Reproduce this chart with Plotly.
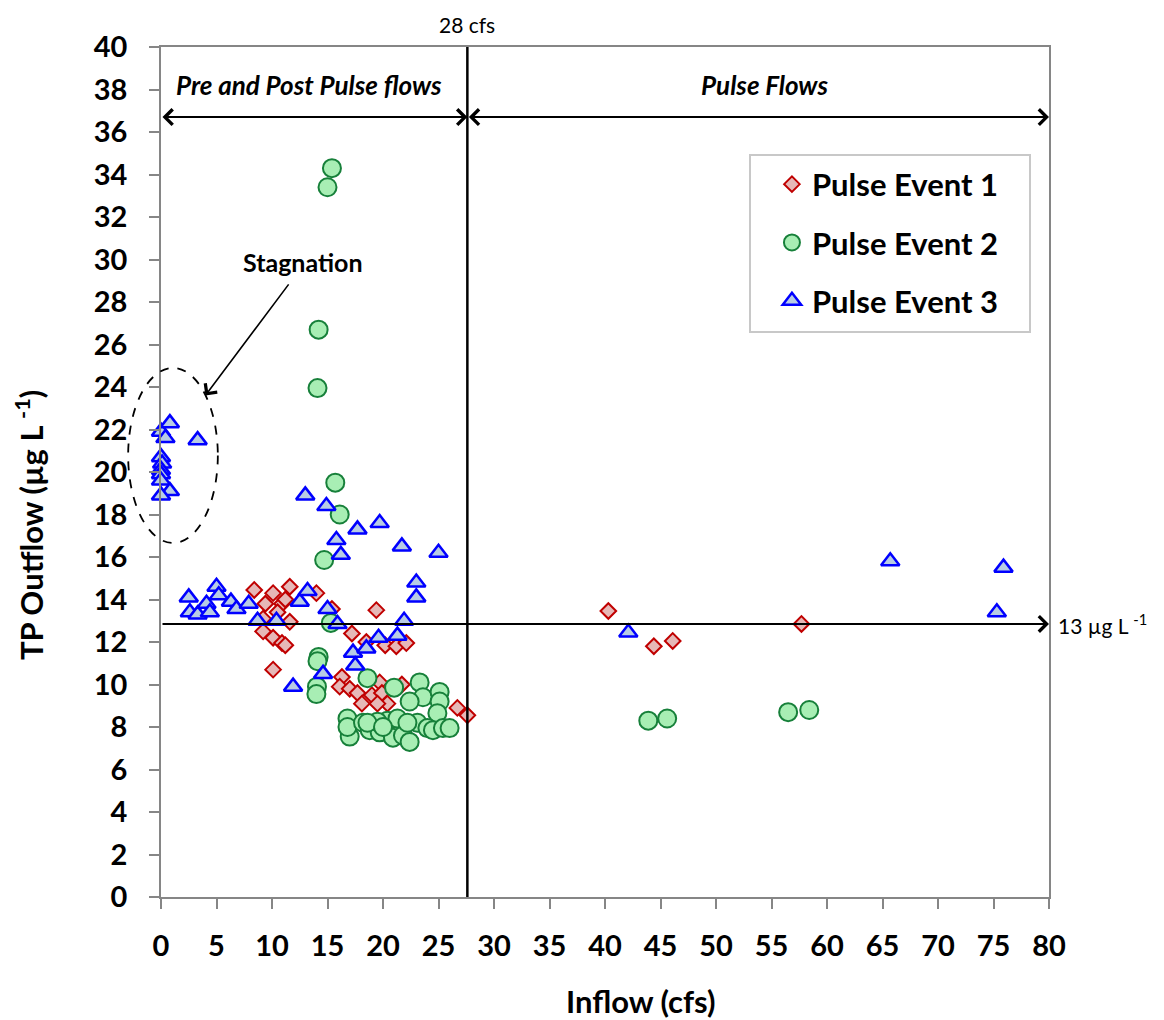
import plotly.graph_objects as go

# Pulse event 1 (diamonds)
event1_x = [8.4, 9.4, 10.1, 10.9, 11.6, 11.2, 10.5, 9.2, 11.6, 9.2, 10.1, 10.9, 11.2, 10.1,
            14.0, 15.4, 17.2, 18.5, 19.4, 20.2, 21.2, 22.1, 16.3, 16.1, 17.0, 17.7, 18.1,
            19.0, 19.7, 19.9, 20.4, 19.5, 21.7, 26.7, 27.6, 40.3, 44.4, 46.1, 57.7]
event1_y = [14.45, 13.8, 14.3, 13.8, 14.6, 14.0, 13.4, 13.1, 12.95, 12.5, 12.2, 11.95, 11.85, 10.7,
            14.3, 13.55, 12.4, 12.0, 13.5, 11.85, 11.8, 11.95, 10.35, 9.9, 9.8, 9.6, 9.1,
            9.5, 10.1, 9.6, 9.1, 9.1, 10.0, 8.9, 8.55, 13.46, 11.8, 12.05, 12.85]

# Pulse event 2 (circles)
event2_x = [15.4, 15.0, 14.2, 14.1, 15.7, 16.1, 14.7, 15.3, 14.2, 14.1, 14.05, 14.0, 18.6, 21.0,
            23.3, 23.6, 25.1, 25.1, 22.4, 24.9, 16.8, 17.0, 16.8, 18.2, 18.8, 19.7, 20.4, 21.3,
            20.9, 21.8, 22.4, 23.1, 24.0, 24.5, 25.4, 26.0, 22.2, 19.5, 18.6, 20.0,
            43.9, 45.6, 56.5, 58.4]
event2_y = [34.3, 33.4, 26.7, 23.95, 19.5, 18.0, 15.86, 12.9, 11.3, 11.1, 9.9, 9.55, 10.3, 9.85,
            10.1, 9.4, 9.65, 9.2, 9.2, 8.65, 8.4, 7.55, 8.0, 8.2, 7.85, 7.75, 8.3, 8.4,
            7.5, 7.6, 7.3, 8.2, 7.95, 7.85, 7.95, 7.95, 8.2, 8.25, 8.2, 8.0,
            8.3, 8.4, 8.7, 8.8]

# Pulse event 3 (triangles)
event3_x = [0.0, 0.8, 0.4, 3.3, 0.0, 0.1, 0.0, 0.0, 0.0, 0.8, 0.0,
            13.0, 14.9, 15.8, 16.2, 17.7, 19.7, 21.7, 25.0, 23.0, 23.0,
            2.5, 5.0, 5.2, 2.6, 3.3, 4.1, 4.4, 6.3, 6.8, 7.9, 8.7, 10.4, 12.5, 13.2,
            15.0, 15.9, 11.9, 14.6, 17.3, 17.5, 18.5, 19.6, 21.3, 21.9,
            42.1, 65.7, 75.9, 75.3]
event3_y = [21.9, 22.3, 21.6, 21.5, 20.7, 20.4, 20.1, 19.9, 19.6, 19.1, 18.9,
            18.9, 18.4, 16.8, 16.1, 17.3, 17.6, 16.5, 16.2, 14.8, 14.1,
            14.1, 14.6, 14.2, 13.4, 13.3, 13.8, 13.4, 13.9, 13.55, 13.8, 13.0, 13.0, 13.9, 14.4,
            13.55, 12.85, 9.9, 10.5, 11.5, 10.9, 11.7, 12.2, 12.3, 13.0,
            12.45, 15.8, 15.5, 13.4]

x_ticks = list(range(0, 81, 5))
y_ticks = list(range(0, 41, 2))

split_flow = 27.6   # 28 cfs divider
tp_target = 12.85   # 13 ug/L line
arrow_level = 36.7

FONT = "Lato"

fig = go.Figure()

fig.add_trace(go.Scatter(
    x=event1_x, y=event1_y, mode="markers", name="Pulse Event 1",
    legendgroup="1", cliponaxis=False,
    marker=dict(symbol="diamond", size=12, color="#e6b8b7",
                line=dict(color="#c00000", width=2))))
fig.add_trace(go.Scatter(
    x=event2_x, y=event2_y, mode="markers", name="Pulse Event 2",
    legendgroup="2", cliponaxis=False,
    marker=dict(symbol="circle", size=18, color="#a8eeb4",
                line=dict(color="#17803a", width=2))))
fig.add_trace(go.Scatter(
    x=event3_x, y=event3_y, mode="markers", name="Pulse Event 3",
    legendgroup="3", cliponaxis=False,
    marker=dict(symbol="triangle-up", size=16, color="#b8cce4",
                line=dict(color="#0000ff", width=2.5))))

# divider line at 28 cfs
fig.add_shape(type="line", x0=split_flow, x1=split_flow, y0=0, y1=40,
              line=dict(color="black", width=2.5))

# legend box
fig.add_shape(type="rect", xref="paper", yref="paper",
              x0=0.6633, x1=0.9786, y0=0.6647, y1=0.873,
              line=dict(color="#c8c8c8", width=2), fillcolor="white", layer="below")

# dashed ellipse around stagnation points
fig.add_shape(type="circle", xref="paper", yref="paper",
              x0=-0.037, x1=0.064, y0=0.4165, y1=0.6224,
              line=dict(color="black", width=1.8, dash="dash"))

arrow = dict(showarrow=True, text="", axref="x", ayref="y", arrowcolor="black",
             arrowhead=4, arrowsize=1.5, arrowwidth=2, standoff=0, startstandoff=0)

fig.add_annotation(x=split_flow, y=arrow_level, ax=0, ay=arrow_level,
                   arrowside="end+start", startarrowhead=4, startarrowsize=1.5, **arrow)
fig.add_annotation(x=80, y=arrow_level, ax=split_flow, ay=arrow_level,
                   arrowside="end+start", startarrowhead=4, startarrowsize=1.5, **arrow)
fig.add_annotation(x=80, y=tp_target, ax=0, ay=tp_target, **arrow)
fig.add_annotation(x=4.0, y=23.6, ax=11.6, ay=28.9,
                   **{**arrow, "arrowwidth": 1.6, "arrowsize": 1.8})

# texts
fig.add_annotation(x=split_flow, y=1.027, yref="paper", yanchor="middle",
                   text="28 cfs", showarrow=False,
                   font=dict(family=FONT, size=21, color="black"))
fig.add_annotation(x=13.3, y=38.2, text="Pre and Post Pulse flows", showarrow=False,
                   font=dict(family=FONT, size=26, color="black", style="italic", weight="bold"))
fig.add_annotation(x=54.4, y=38.2, text="Pulse Flows", showarrow=False,
                   font=dict(family=FONT, size=26, color="black", style="italic", weight="bold"))
fig.add_annotation(x=12.8, y=29.9, text="Stagnation", showarrow=False,
                   font=dict(family=FONT, size=25, color="black", weight="bold"))
fig.add_annotation(x=1.008, xref="paper", y=tp_target, xanchor="left",
                   text="13 µg L <sup>-1</sup>", showarrow=False,
                   font=dict(family=FONT, size=21, color="black"))

# axis titles
fig.add_annotation(x=-0.1486, y=0.4376, xref="paper", yref="paper", textangle=-90,
                   xanchor="center", yanchor="middle",
                   text="TP Outflow (µg L <sup>-1</sup>)", showarrow=False,
                   font=dict(family=FONT, size=31, color="black", weight="bold"))
fig.add_annotation(x=0.5405, y=-0.1224, xref="paper", yref="paper",
                   xanchor="center", yanchor="middle",
                   text="Inflow (cfs)", showarrow=False,
                   font=dict(family=FONT, size=31, color="black", weight="bold"))

axis_style = dict(showgrid=False, zeroline=False, showline=True, mirror=True,
                  linecolor="#868686", linewidth=1.5, ticks="outside", ticklen=10,
                  tickcolor="#868686", tickwidth=1.5,
                  tickfont=dict(family=FONT, size=29, color="black", weight="bold"))

fig.update_xaxes(range=[0, 80], tickvals=x_ticks, ticklabelstandoff=12, **axis_style)
fig.update_yaxes(range=[0, 40], tickvals=y_ticks, ticklabelstandoff=16, **axis_style)

fig.update_layout(
    width=1164, height=1020,
    margin=dict(l=153, r=123, t=39, b=131),
    plot_bgcolor="white", paper_bgcolor="white",
    legend=dict(x=0.688, y=0.87, xanchor="left", yanchor="top",
                bgcolor="rgba(0,0,0,0)", tracegroupgap=15,
                font=dict(family=FONT, size=31, color="black", weight="bold")),
)

fig.write_html("out.html")
